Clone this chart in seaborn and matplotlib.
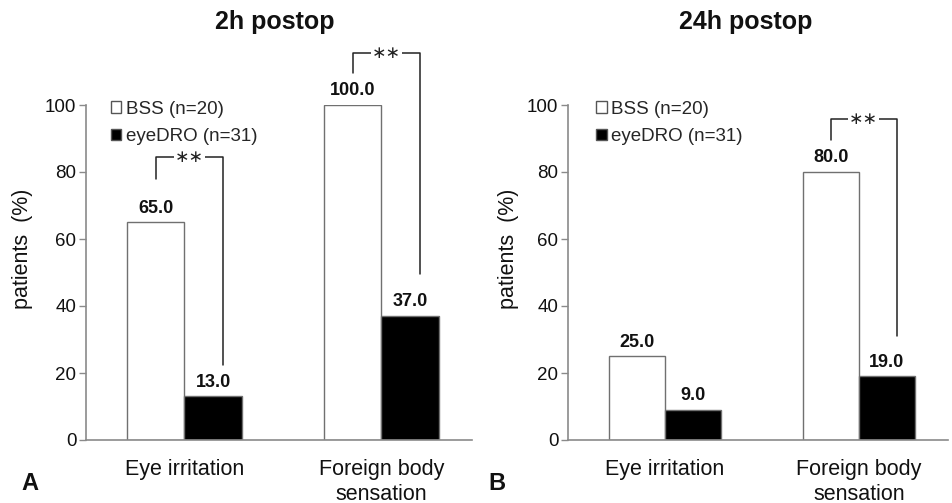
import matplotlib
matplotlib.use("Agg")
import matplotlib.pyplot as plt
import seaborn as sns
import pandas as pd

sns.set_theme(style="white")
plt.rcParams['font.family'] = ['Liberation Sans', 'DejaVu Sans']

categories = ["Eye irritation", "Foreign body\nsensation"]
groups = ["BSS (n=20)", "eyeDRO (n=31)"]
bss_2h = [65.0, 100.0]
dro_2h = [13.0, 37.0]
bss_24h = [25.0, 80.0]
dro_24h = [9.0, 19.0]
panel_titles = ["2h postop", "24h postop"]
panel_letters = ["A", "B"]
yticks = [0, 20, 40, 60, 80, 100]

# significance brackets: (category index, left-leg bottom, top, right-leg bottom)
sig_2h = [(0, 78, 84.5, 22.5), (1, 109.5, 115.5, 49.5)]
sig_24h = [(1, 89.5, 95.8, 31)]

fig = plt.figure(figsize=(9.52, 5.03), dpi=100)
ax1 = fig.add_axes([86 / 952, 1 - 440 / 503, 386 / 952, 335 / 503])
ax2 = fig.add_axes([568 / 952, 1 - 440 / 503, 380 / 952, 335 / 503])

W = 0.58
grey = "#8a8a8a"

def draw(ax, bss, dro, sigs, title_x, title, leg_x, ylab_dx):
    df = pd.DataFrame({
        "symptom": categories * 2,
        "pct": bss + dro,
        "group": [groups[0]] * 2 + [groups[1]] * 2,
    })
    sns.barplot(data=df, x="symptom", y="pct", hue="group",
                palette=["white", "black"], edgecolor="#707070",
                linewidth=1.0, width=W, ax=ax, errorbar=None)
    for c in ax.containers:
        ax.bar_label(c, fmt="%.1f", padding=4, fontsize=13,
                     fontweight="bold", color="#111")
    ax.set_xlim(-0.5, 1.46)
    ax.set_ylim(0, 100)
    ax.set_yticks(yticks)
    ax.set_ylabel("patients  (%)", fontsize=15.5, color="#111")
    ax.yaxis.set_label_coords(ylab_dx / (ax.get_position().width * 952), 0.572)
    ax.set_xlabel("")
    for s in ["top", "right"]:
        ax.spines[s].set_visible(False)
    for s in ["left", "bottom"]:
        ax.spines[s].set_color(grey)
        ax.spines[s].set_linewidth(1.2)
    ax.tick_params(axis="y", left=True, length=5, width=1, color=grey,
                   labelsize=13.5, labelcolor="#111", pad=2)
    ax.tick_params(axis="x", bottom=False, labelsize=15.5,
                   labelcolor="#111", pad=8)
    ax.legend(frameon=False, loc="upper left",
              bbox_to_anchor=(leg_x, 1.035), fontsize=13.5,
              handlelength=0.55, handleheight=0.55, handletextpad=0.25,
              labelspacing=0.55, borderaxespad=0)
    for h in ax.get_legend().legend_handles:
        h.set_edgecolor("#555")
    bw = W / 2
    for ci, lb, top, rb in sigs:
        xl = ci - bw / 2
        xr = ci + bw / 2 + 0.05
        ax.plot([xl, xl, xr, xr], [lb, top, top, rb], color="#222",
                lw=1.1, clip_on=False)
        ax.text((xl + xr) / 2, top, "\u2217\u2217", ha="center", va="center",
                fontsize=12.5, color="#222", clip_on=False,
                family=["DejaVu Sans"],
                bbox=dict(facecolor="white", edgecolor="none", pad=0.5))
    fig.text(title_x, 1 - 22 / 503, title, ha="center", va="center",
             fontsize=18, fontweight="bold", color="#111")

draw(ax1, bss_2h, dro_2h, sig_2h, 275 / 952, panel_titles[0], 0.045, -53)
draw(ax2, bss_24h, dro_24h, sig_24h, 746 / 952, panel_titles[1], 0.055, -49)

fig.text(21 / 952, 1 - 484 / 503, panel_letters[0], fontsize=17,
         fontweight="bold", ha="left", va="center", color="#111")
fig.text(488 / 952, 1 - 484 / 503, panel_letters[1], fontsize=17,
         fontweight="bold", ha="left", va="center", color="#111")

fig.savefig("out.png", dpi=100, facecolor="white")
